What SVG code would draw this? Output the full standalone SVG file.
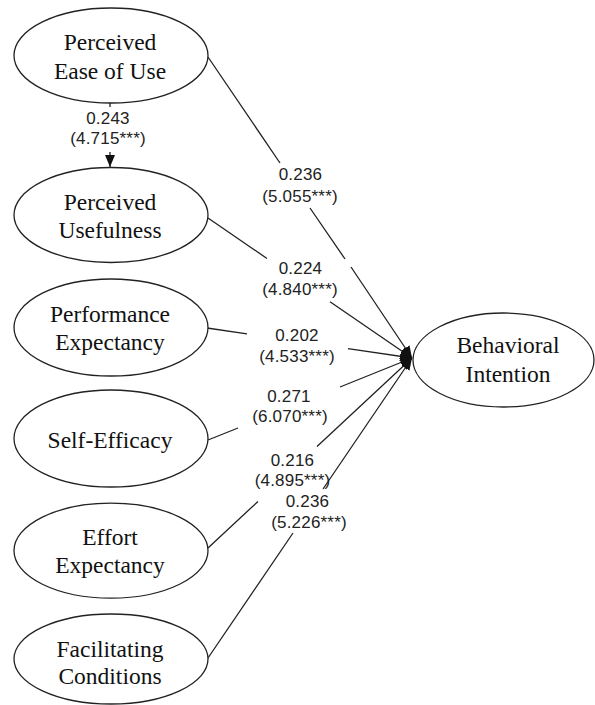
<svg xmlns="http://www.w3.org/2000/svg" width="595" height="705" viewBox="0 0 595 705">
<style>
.node ellipse{fill:#fff;stroke:#222;stroke-width:1.3}
.node text{font-family:"Liberation Serif","Times New Roman",serif;font-size:23.5px;fill:#111;text-anchor:middle}
.edge{fill:none;stroke:#222;stroke-width:1.3;marker-end:url(#arr)}
.lbl{font-family:"Liberation Sans",Arial,sans-serif;font-size:17px;letter-spacing:0.2px;fill:#222;text-anchor:middle}
</style>
<defs>
<marker id="arr" viewBox="0 0 12 10" refX="12" refY="5" markerWidth="12" markerHeight="10" markerUnits="userSpaceOnUse" orient="auto">
<path d="M0,0 L12,5 L0,10 Z" fill="#111"/>
</marker>
</defs>
<g id="connectors">
<path class="edge" d="M110,103 L110,107 M110,152 L110,167"/>
<path class="edge" d="M208,57 L280,163 M310,208 L345,259 M351,267 L412,358"/>
<path class="edge" d="M208,218 L267,258.5 M330,301.7 L412,358"/>
<path class="edge" d="M207,328 L247,333.8 M348,348.6 L412,358"/>
<path class="edge" d="M208,440 L238,428 M340,387 L412,358"/>
<path class="edge" d="M208,548 L258,501.4 M317,446.5 L412,358"/>
<path class="edge" d="M208,658 L293,533 M323,489 L412,358"/>
</g>
<g id="labels">
<text class="lbl"><tspan x="108" y="124">0.243</tspan><tspan x="108" y="144">(4.715***)</tspan></text>
<text class="lbl"><tspan x="300.5" y="180">0.236</tspan><tspan x="300" y="202">(5.055***)</tspan></text>
<text class="lbl"><tspan x="300.5" y="274">0.224</tspan><tspan x="300" y="295">(4.840***)</tspan></text>
<text class="lbl"><tspan x="297" y="341">0.202</tspan><tspan x="297" y="362">(4.533***)</tspan></text>
<text class="lbl"><tspan x="289" y="402">0.271</tspan><tspan x="290" y="422">(6.070***)</tspan></text>
<text class="lbl"><tspan x="292.5" y="466">0.216</tspan><tspan x="292.5" y="486">(4.895***)</tspan></text>
<text class="lbl"><tspan x="307.5" y="507">0.236</tspan><tspan x="309" y="528">(5.226***)</tspan></text>
</g>
<g id="peou" class="node">
<ellipse cx="111" cy="55.5" rx="97" ry="47.5"/>
<text><tspan x="110" y="50">Perceived</tspan><tspan x="110" y="79">Ease of Use</tspan></text>
</g>
<g id="pu" class="node">
<ellipse cx="111" cy="215" rx="97" ry="47.5"/>
<text><tspan x="110" y="210">Perceived</tspan><tspan x="110" y="238">Usefulness</tspan></text>
</g>
<g id="pe" class="node">
<ellipse cx="111" cy="327.5" rx="97" ry="48.5"/>
<text><tspan x="110" y="322">Performance</tspan><tspan x="110" y="350">Expectancy</tspan></text>
</g>
<g id="se" class="node">
<ellipse cx="111" cy="438.5" rx="97" ry="48.5"/>
<text x="110" y="448">Self-Efficacy</text>
</g>
<g id="ee" class="node">
<ellipse cx="111" cy="550.7" rx="97" ry="47.5"/>
<text><tspan x="110" y="545">Effort</tspan><tspan x="110" y="573">Expectancy</tspan></text>
</g>
<g id="fc" class="node">
<ellipse cx="111" cy="659" rx="97" ry="45"/>
<text><tspan x="110" y="657">Facilitating</tspan><tspan x="110" y="684">Conditions</tspan></text>
</g>
<g id="bi" class="node">
<ellipse cx="503.5" cy="360" rx="90.5" ry="47"/>
<text><tspan x="508" y="353">Behavioral</tspan><tspan x="508" y="382">Intention</tspan></text>
</g>
</svg>
